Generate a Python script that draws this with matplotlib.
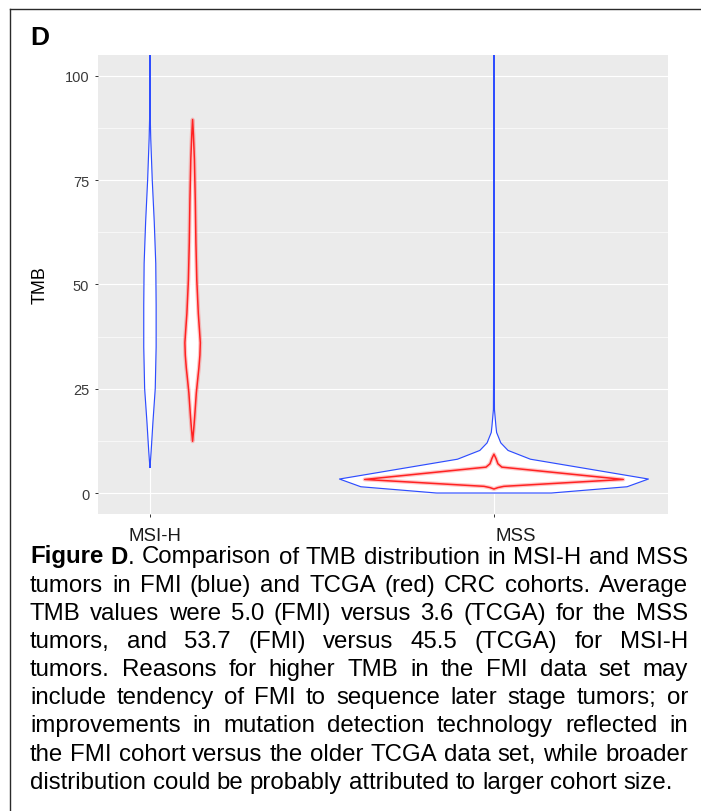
import matplotlib
matplotlib.use('Agg')
import matplotlib.pyplot as plt
import matplotlib.transforms as mtransforms
import numpy as np
from matplotlib import font_manager as fm
from matplotlib.ft2font import FT2Font
from matplotlib.lines import Line2D

W, H, DPI = 701, 812, 100

# ---------------- data ----------------
categories = ['MSI-H', 'MSS']
yticks = [0, 25, 50, 75, 100]
ytick_labels = ['0', '25', '50', '75', '100']
ylabel = 'TMB'
panel_label = 'D'

# Violin outlines: TMB value -> half width (in category units)
fmi_msih_tmb = [6.0, 10, 17, 25, 35, 45, 55, 65, 75, 85, 90, 100, 120]
fmi_msih_half = [0, .0035, .0087, .0154, .018, .018, .0169, .0125, .0067, .0023, .0009, .0007, .0007]
tcga_msih_tmb = [12.4, 15, 18, 24, 27, 30, 33, 36, 39, 43, 51, 60, 70, 80, 86, 89.5]
tcga_msih_half = [0, .0029, .0058, .0108, .0145, .0183, .0212, .0224, .0200, .0166, .0122, .0096, .0078,
                  .0052, .0023, 0]
fmi_mss_tmb = [0, 1.5, 3.35, 8.1, 10.2, 12, 14.5, 16, 20, 30, 120]
fmi_mss_half = [.167, .387, .449, .106, .041, .020, .0078, .0058, .0015, .0009, .0009]
tcga_mss_tmb = [0.96, 1.3, 1.6, 3.25, 6.2, 7.0, 8.3, 9.3]
tcga_mss_half = [0, .0116, .029, .376, .023, .0116, .0058, 0]

caption = [
    "**Figure D**. Comparison of TMB distribution in MSI-H and MSS",
    "tumors in FMI (blue) and TCGA (red) CRC cohorts. Average",
    "TMB values were 5.0 (FMI) versus 3.6 (TCGA) for the MSS",
    "tumors, and 53.7 (FMI) versus 45.5 (TCGA) for MSI-H",
    "tumors. Reasons for higher TMB in the FMI data set may",
    "include tendency of FMI to sequence later stage tumors; or",
    "improvements in mutation detection technology reflected in",
    "the FMI cohort versus the older TCGA data set, while broader",
    "distribution could be probably attributed to larger cohort size.",
]

# ---------------- style ----------------
BLUE = '#2E4DFF'
RED = '#FF2222'
FONT = 'Liberation Sans'
plt.rcParams['font.family'] = [FONT, 'DejaVu Sans']
avail = {f.name for f in fm.fontManager.ttflist}

fig = plt.figure(figsize=(W / DPI, H / DPI), dpi=DPI)
fig.patch.set_facecolor('white')
renderer = fig.canvas.get_renderer()

def fx(px):
    return px / W

def fy(py):
    return 1 - py / H

# panel in pixel coordinates
pl, pr, pt, pb = 98, 668, 56, 515
ax = fig.add_axes([fx(pl), fy(pb), (pr - pl) / W, (pb - pt) / H])
ax.set_facecolor('#EBEBEB')
for s in ax.spines.values():
    s.set_visible(False)

pos = np.arange(1, len(categories) + 1)
ax.set_xlim(0.849, 2.506)
ax.set_ylim(-5.03, 104.96)
ax.set_xticks(pos)
ax.set_xticklabels(categories)
ax.set_yticks(yticks)
ax.set_yticklabels(ytick_labels)
ax.set_yticks([12.5, 37.5, 62.5, 87.5], minor=True)
ax.grid(True, which='major', color='white', lw=0.85, zorder=0)
ax.grid(True, which='minor', axis='y', color='white', lw=0.45, zorder=0)
ax.set_axisbelow(True)
ax.tick_params(axis='both', which='major', length=2.0, width=0.7, color='#333333')
ax.tick_params(axis='y', which='major', pad=4.3, labelsize=10.5, labelcolor='#3a3a3a')
ax.tick_params(axis='x', which='major', pad=7.5, labelsize=13.4, labelcolor='#1a1a1a')
ax.tick_params(which='minor', length=0)
ax.set_ylabel(ylabel, fontsize=13, color='black')
ax.yaxis.set_label_coords((48.5 - pl) / (pr - pl), 0.5)

# the category labels sit slightly right of their ticks in the reference
for lab, dx in zip(ax.get_xticklabels(), [4.5, 21.5]):
    lab.set_transform(lab.get_transform() + mtransforms.ScaledTranslation(dx / DPI, 0, fig.dpi_scale_trans))


def violin(center, tmb, half, color, lw, z, glow=False):
    tmb = np.asarray(tmb, float)
    half = np.asarray(half, float)
    xs = np.concatenate([center - half, (center + half)[::-1]])
    ys = np.concatenate([tmb, tmb[::-1]])
    ax.fill(xs, ys, facecolor='white', edgecolor='none', zorder=z)
    if glow:
        ax.fill(xs, ys, facecolor='none', edgecolor=color, lw=lw * 2.6, alpha=0.25,
                zorder=z + 0.1, joinstyle='round')
    ax.fill(xs, ys, facecolor='none', edgecolor=color, lw=lw, zorder=z + 0.2,
            joinstyle='round')

tcga_shift = [0.124, 0.0]
violin(pos[0], fmi_msih_tmb, fmi_msih_half, BLUE, 0.85, 3)
violin(pos[1], fmi_mss_tmb, fmi_mss_half, BLUE, 0.85, 3)
violin(pos[0] + tcga_shift[0], tcga_msih_tmb, tcga_msih_half, RED, 1.1, 4, glow=True)
violin(pos[1] + tcga_shift[1], tcga_mss_tmb, tcga_mss_half, RED, 1.1, 4, glow=True)

# panel label
fig.text(fx(30), fy(45), panel_label, fontsize=19, fontweight='bold', va='baseline', ha='left')

# border (top and left)
fig.add_artist(Line2D([fx(10), fx(W + 5)], [fy(10), fy(10)], color='#2a2a2a', lw=1.0))
fig.add_artist(Line2D([fx(10), fx(10)], [fy(10), fy(H + 5)], color='#2a2a2a', lw=1.0))

# ---------------- justified caption ----------------
def parse(line):
    words, bold = [], False
    for w in line.split(' '):
        segs = []
        for i, p in enumerate(w.split('**')):
            if i > 0:
                bold = not bold
            if p:
                segs.append((p, 'bold' if bold else 'normal'))
        words.append(segs)
    return words

def seg_width(text, weight, fs, fam):
    t = fig.text(0, 0, text, fontsize=fs, fontweight=weight, family=[fam, 'DejaVu Sans'])
    w = t.get_window_extent(renderer).width
    t.remove()
    return w

def space_width(fs, fam):
    return seg_width('a a', 'normal', fs, fam) - seg_width('aa', 'normal', fs, fam)

def cap_height_px(fam, fs):
    path = fm.findfont(fm.FontProperties(family=fam))
    ft = FT2Font(path)
    ft.set_size(fs, DPI)
    g = ft.load_char(ord('H'))
    return g.height / 64.0

parsed = [parse(l) for l in caption]
x_left, x_right = 30, 688
last_target = 675 - x_left
target_cap = 14.2

def fit_size(fam):
    fs0 = 10.0
    lw0 = sum(sum(seg_width(s, wt, fs0, fam) for s, wt in w) for w in parsed[-1]) \
        + (len(parsed[-1]) - 1) * space_width(fs0, fam)
    return fs0 * last_target / lw0

# choose the narrow sans face whose proportions best match the reference caption
best = None
for fam in ['Archivo Narrow', 'Roboto Condensed', 'IBM Plex Sans Condensed', 'PT Sans Narrow',
            'Liberation Sans']:
    if fam not in avail:
        continue
    try:
        fs = fit_size(fam)
        err = abs(cap_height_px(fam, fs) - target_cap)
    except Exception:
        continue
    if best is None or err < best[0]:
        best = (err, fam, fs)
_, CAP_FONT, cap_fs = best

base0, lead = 563.5, 28.15
sp = space_width(cap_fs, CAP_FONT)
for i, words in enumerate(parsed):
    widths = [[seg_width(s, wt, cap_fs, CAP_FONT) for s, wt in w] for w in words]
    totals = [sum(w) for w in widths]
    if i < len(parsed) - 1 and len(words) > 1:
        gap = (x_right - x_left - sum(totals)) / (len(words) - 1)
    else:
        gap = sp
    x = x_left
    yb = base0 + i * lead
    for w, ws in zip(words, widths):
        xx = x
        for (s, wt), sw in zip(w, ws):
            fig.text(fx(xx), fy(yb), s, fontsize=cap_fs, fontweight=wt,
                     family=[CAP_FONT, 'DejaVu Sans'], va='baseline', ha='left')
            xx += sw
        x += sum(ws) + gap

fig.savefig('out.png', dpi=DPI)
